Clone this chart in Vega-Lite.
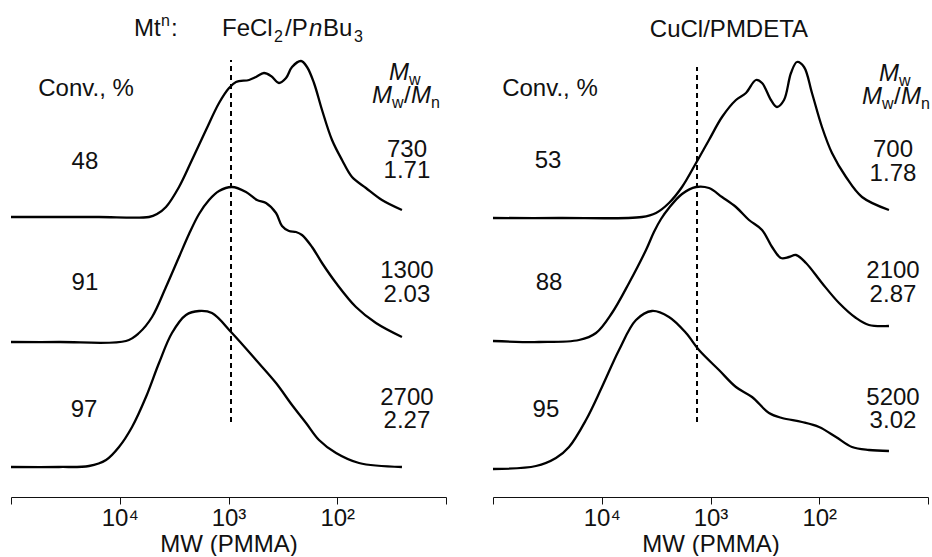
{
  "$schema": "https://vega.github.io/schema/vega-lite/v6.json",
  "padding": {"left": 6, "top": 0, "right": 0, "bottom": 0},
  "config": {"view": {"stroke": null}, "font": "Liberation Sans"},
  "data": {"values": [
    {"panel":"FeCl2/PnBu3","kind":"curve","series":"48","logMW":5.000,"signal":280},
    {"panel":"FeCl2/PnBu3","kind":"curve","series":"48","logMW":4.559,"signal":280},
    {"panel":"FeCl2/PnBu3","kind":"curve","series":"48","logMW":4.191,"signal":280},
    {"panel":"FeCl2/PnBu3","kind":"curve","series":"48","logMW":3.731,"signal":280},
    {"panel":"FeCl2/PnBu3","kind":"curve","series":"48","logMW":3.657,"signal":283},
    {"panel":"FeCl2/PnBu3","kind":"curve","series":"48","logMW":3.575,"signal":290},
    {"panel":"FeCl2/PnBu3","kind":"curve","series":"48","logMW":3.455,"signal":310},
    {"panel":"FeCl2/PnBu3","kind":"curve","series":"48","logMW":3.336,"signal":337},
    {"panel":"FeCl2/PnBu3","kind":"curve","series":"48","logMW":3.207,"signal":367},
    {"panel":"FeCl2/PnBu3","kind":"curve","series":"48","logMW":3.087,"signal":394},
    {"panel":"FeCl2/PnBu3","kind":"curve","series":"48","logMW":2.995,"signal":409},
    {"panel":"FeCl2/PnBu3","kind":"curve","series":"48","logMW":2.931,"signal":415},
    {"panel":"FeCl2/PnBu3","kind":"curve","series":"48","logMW":2.811,"signal":417},
    {"panel":"FeCl2/PnBu3","kind":"curve","series":"48","logMW":2.747,"signal":420},
    {"panel":"FeCl2/PnBu3","kind":"curve","series":"48","logMW":2.674,"signal":424},
    {"panel":"FeCl2/PnBu3","kind":"curve","series":"48","logMW":2.609,"signal":421},
    {"panel":"FeCl2/PnBu3","kind":"curve","series":"48","logMW":2.536,"signal":414},
    {"panel":"FeCl2/PnBu3","kind":"curve","series":"48","logMW":2.471,"signal":419},
    {"panel":"FeCl2/PnBu3","kind":"curve","series":"48","logMW":2.416,"signal":430},
    {"panel":"FeCl2/PnBu3","kind":"curve","series":"48","logMW":2.333,"signal":436},
    {"panel":"FeCl2/PnBu3","kind":"curve","series":"48","logMW":2.278,"signal":430},
    {"panel":"FeCl2/PnBu3","kind":"curve","series":"48","logMW":2.214,"signal":414},
    {"panel":"FeCl2/PnBu3","kind":"curve","series":"48","logMW":2.140,"signal":387},
    {"panel":"FeCl2/PnBu3","kind":"curve","series":"48","logMW":2.048,"signal":357},
    {"panel":"FeCl2/PnBu3","kind":"curve","series":"48","logMW":1.956,"signal":337},
    {"panel":"FeCl2/PnBu3","kind":"curve","series":"48","logMW":1.864,"signal":320},
    {"panel":"FeCl2/PnBu3","kind":"curve","series":"48","logMW":1.736,"signal":309},
    {"panel":"FeCl2/PnBu3","kind":"curve","series":"48","logMW":1.589,"signal":297},
    {"panel":"FeCl2/PnBu3","kind":"curve","series":"48","logMW":1.405,"signal":287},

    {"panel":"FeCl2/PnBu3","kind":"curve","series":"91","logMW":5.000,"signal":155},
    {"panel":"FeCl2/PnBu3","kind":"curve","series":"91","logMW":4.559,"signal":155},
    {"panel":"FeCl2/PnBu3","kind":"curve","series":"91","logMW":3.943,"signal":156},
    {"panel":"FeCl2/PnBu3","kind":"curve","series":"91","logMW":3.823,"signal":164},
    {"panel":"FeCl2/PnBu3","kind":"curve","series":"91","logMW":3.703,"signal":180},
    {"panel":"FeCl2/PnBu3","kind":"curve","series":"91","logMW":3.575,"signal":210},
    {"panel":"FeCl2/PnBu3","kind":"curve","series":"91","logMW":3.455,"signal":240},
    {"panel":"FeCl2/PnBu3","kind":"curve","series":"91","logMW":3.363,"signal":263},
    {"panel":"FeCl2/PnBu3","kind":"curve","series":"91","logMW":3.271,"signal":283},
    {"panel":"FeCl2/PnBu3","kind":"curve","series":"91","logMW":3.179,"signal":297},
    {"panel":"FeCl2/PnBu3","kind":"curve","series":"91","logMW":3.087,"signal":306},
    {"panel":"FeCl2/PnBu3","kind":"curve","series":"91","logMW":2.968,"signal":310},
    {"panel":"FeCl2/PnBu3","kind":"curve","series":"91","logMW":2.839,"signal":305},
    {"panel":"FeCl2/PnBu3","kind":"curve","series":"91","logMW":2.738,"signal":297},
    {"panel":"FeCl2/PnBu3","kind":"curve","series":"91","logMW":2.655,"signal":294},
    {"panel":"FeCl2/PnBu3","kind":"curve","series":"91","logMW":2.563,"signal":284},
    {"panel":"FeCl2/PnBu3","kind":"curve","series":"91","logMW":2.508,"signal":271},
    {"panel":"FeCl2/PnBu3","kind":"curve","series":"91","logMW":2.444,"signal":266},
    {"panel":"FeCl2/PnBu3","kind":"curve","series":"91","logMW":2.379,"signal":265},
    {"panel":"FeCl2/PnBu3","kind":"curve","series":"91","logMW":2.324,"signal":262},
    {"panel":"FeCl2/PnBu3","kind":"curve","series":"91","logMW":2.232,"signal":250},
    {"panel":"FeCl2/PnBu3","kind":"curve","series":"91","logMW":2.140,"signal":234},
    {"panel":"FeCl2/PnBu3","kind":"curve","series":"91","logMW":2.011,"signal":214},
    {"panel":"FeCl2/PnBu3","kind":"curve","series":"91","logMW":1.828,"signal":190},
    {"panel":"FeCl2/PnBu3","kind":"curve","series":"91","logMW":1.644,"signal":174},
    {"panel":"FeCl2/PnBu3","kind":"curve","series":"91","logMW":1.405,"signal":160},

    {"panel":"FeCl2/PnBu3","kind":"curve","series":"97","logMW":5.000,"signal":30},
    {"panel":"FeCl2/PnBu3","kind":"curve","series":"97","logMW":4.559,"signal":30},
    {"panel":"FeCl2/PnBu3","kind":"curve","series":"97","logMW":4.283,"signal":31},
    {"panel":"FeCl2/PnBu3","kind":"curve","series":"97","logMW":4.126,"signal":37},
    {"panel":"FeCl2/PnBu3","kind":"curve","series":"97","logMW":4.007,"signal":50},
    {"panel":"FeCl2/PnBu3","kind":"curve","series":"97","logMW":3.887,"signal":70},
    {"panel":"FeCl2/PnBu3","kind":"curve","series":"97","logMW":3.759,"signal":100},
    {"panel":"FeCl2/PnBu3","kind":"curve","series":"97","logMW":3.639,"signal":134},
    {"panel":"FeCl2/PnBu3","kind":"curve","series":"97","logMW":3.520,"signal":164},
    {"panel":"FeCl2/PnBu3","kind":"curve","series":"97","logMW":3.391,"signal":182},
    {"panel":"FeCl2/PnBu3","kind":"curve","series":"97","logMW":3.271,"signal":186},
    {"panel":"FeCl2/PnBu3","kind":"curve","series":"97","logMW":3.152,"signal":184},
    {"panel":"FeCl2/PnBu3","kind":"curve","series":"97","logMW":2.968,"signal":164},
    {"panel":"FeCl2/PnBu3","kind":"curve","series":"97","logMW":2.747,"signal":137},
    {"panel":"FeCl2/PnBu3","kind":"curve","series":"97","logMW":2.563,"signal":114},
    {"panel":"FeCl2/PnBu3","kind":"curve","series":"97","logMW":2.416,"signal":92},
    {"panel":"FeCl2/PnBu3","kind":"curve","series":"97","logMW":2.287,"signal":74},
    {"panel":"FeCl2/PnBu3","kind":"curve","series":"97","logMW":2.168,"signal":57},
    {"panel":"FeCl2/PnBu3","kind":"curve","series":"97","logMW":2.011,"signal":44},
    {"panel":"FeCl2/PnBu3","kind":"curve","series":"97","logMW":1.800,"signal":34},
    {"panel":"FeCl2/PnBu3","kind":"curve","series":"97","logMW":1.405,"signal":30},

    {"panel":"CuCl/PMDETA","kind":"curve","series":"53","logMW":5.000,"signal":279},
    {"panel":"CuCl/PMDETA","kind":"curve","series":"53","logMW":4.393,"signal":279},
    {"panel":"CuCl/PMDETA","kind":"curve","series":"53","logMW":3.630,"signal":280},
    {"panel":"CuCl/PMDETA","kind":"curve","series":"53","logMW":3.501,"signal":284},
    {"panel":"CuCl/PMDETA","kind":"curve","series":"53","logMW":3.382,"signal":294},
    {"panel":"CuCl/PMDETA","kind":"curve","series":"53","logMW":3.262,"signal":310},
    {"panel":"CuCl/PMDETA","kind":"curve","series":"53","logMW":3.133,"signal":334},
    {"panel":"CuCl/PMDETA","kind":"curve","series":"53","logMW":3.014,"signal":357},
    {"panel":"CuCl/PMDETA","kind":"curve","series":"53","logMW":2.894,"signal":380},
    {"panel":"CuCl/PMDETA","kind":"curve","series":"53","logMW":2.766,"signal":397},
    {"panel":"CuCl/PMDETA","kind":"curve","series":"53","logMW":2.674,"signal":404},
    {"panel":"CuCl/PMDETA","kind":"curve","series":"53","logMW":2.582,"signal":417},
    {"panel":"CuCl/PMDETA","kind":"curve","series":"53","logMW":2.526,"signal":414},
    {"panel":"CuCl/PMDETA","kind":"curve","series":"53","logMW":2.444,"signal":397},
    {"panel":"CuCl/PMDETA","kind":"curve","series":"53","logMW":2.389,"signal":390},
    {"panel":"CuCl/PMDETA","kind":"curve","series":"53","logMW":2.324,"signal":397},
    {"panel":"CuCl/PMDETA","kind":"curve","series":"53","logMW":2.260,"signal":424},
    {"panel":"CuCl/PMDETA","kind":"curve","series":"53","logMW":2.205,"signal":435},
    {"panel":"CuCl/PMDETA","kind":"curve","series":"53","logMW":2.140,"signal":430},
    {"panel":"CuCl/PMDETA","kind":"curve","series":"53","logMW":2.067,"signal":404},
    {"panel":"CuCl/PMDETA","kind":"curve","series":"53","logMW":1.975,"signal":370},
    {"panel":"CuCl/PMDETA","kind":"curve","series":"53","logMW":1.883,"signal":344},
    {"panel":"CuCl/PMDETA","kind":"curve","series":"53","logMW":1.754,"signal":320},
    {"panel":"CuCl/PMDETA","kind":"curve","series":"53","logMW":1.607,"signal":300},
    {"panel":"CuCl/PMDETA","kind":"curve","series":"53","logMW":1.359,"signal":287},

    {"panel":"CuCl/PMDETA","kind":"curve","series":"88","logMW":5.000,"signal":156},
    {"panel":"CuCl/PMDETA","kind":"curve","series":"88","logMW":4.577,"signal":155},
    {"panel":"CuCl/PMDETA","kind":"curve","series":"88","logMW":4.209,"signal":157},
    {"panel":"CuCl/PMDETA","kind":"curve","series":"88","logMW":4.053,"signal":164},
    {"panel":"CuCl/PMDETA","kind":"curve","series":"88","logMW":3.906,"signal":184},
    {"panel":"CuCl/PMDETA","kind":"curve","series":"88","logMW":3.749,"signal":214},
    {"panel":"CuCl/PMDETA","kind":"curve","series":"88","logMW":3.593,"signal":247},
    {"panel":"CuCl/PMDETA","kind":"curve","series":"88","logMW":3.520,"signal":265},
    {"panel":"CuCl/PMDETA","kind":"curve","series":"88","logMW":3.455,"signal":278},
    {"panel":"CuCl/PMDETA","kind":"curve","series":"88","logMW":3.382,"signal":289},
    {"panel":"CuCl/PMDETA","kind":"curve","series":"88","logMW":3.262,"signal":303},
    {"panel":"CuCl/PMDETA","kind":"curve","series":"88","logMW":3.133,"signal":310},
    {"panel":"CuCl/PMDETA","kind":"curve","series":"88","logMW":3.014,"signal":309},
    {"panel":"CuCl/PMDETA","kind":"curve","series":"88","logMW":2.894,"signal":300},
    {"panel":"CuCl/PMDETA","kind":"curve","series":"88","logMW":2.766,"signal":290},
    {"panel":"CuCl/PMDETA","kind":"curve","series":"88","logMW":2.646,"signal":277},
    {"panel":"CuCl/PMDETA","kind":"curve","series":"88","logMW":2.526,"signal":267},
    {"panel":"CuCl/PMDETA","kind":"curve","series":"88","logMW":2.434,"signal":250},
    {"panel":"CuCl/PMDETA","kind":"curve","series":"88","logMW":2.352,"signal":239},
    {"panel":"CuCl/PMDETA","kind":"curve","series":"88","logMW":2.278,"signal":240},
    {"panel":"CuCl/PMDETA","kind":"curve","series":"88","logMW":2.214,"signal":242},
    {"panel":"CuCl/PMDETA","kind":"curve","series":"88","logMW":2.122,"signal":234},
    {"panel":"CuCl/PMDETA","kind":"curve","series":"88","logMW":1.975,"signal":214},
    {"panel":"CuCl/PMDETA","kind":"curve","series":"88","logMW":1.818,"signal":194},
    {"panel":"CuCl/PMDETA","kind":"curve","series":"88","logMW":1.662,"signal":179},
    {"panel":"CuCl/PMDETA","kind":"curve","series":"88","logMW":1.543,"signal":172},
    {"panel":"CuCl/PMDETA","kind":"curve","series":"88","logMW":1.359,"signal":171},

    {"panel":"CuCl/PMDETA","kind":"curve","series":"95","logMW":5.000,"signal":28},
    {"panel":"CuCl/PMDETA","kind":"curve","series":"95","logMW":4.605,"signal":31},
    {"panel":"CuCl/PMDETA","kind":"curve","series":"95","logMW":4.421,"signal":39},
    {"panel":"CuCl/PMDETA","kind":"curve","series":"95","logMW":4.301,"signal":50},
    {"panel":"CuCl/PMDETA","kind":"curve","series":"95","logMW":4.145,"signal":77},
    {"panel":"CuCl/PMDETA","kind":"curve","series":"95","logMW":3.998,"signal":110},
    {"panel":"CuCl/PMDETA","kind":"curve","series":"95","logMW":3.841,"signal":147},
    {"panel":"CuCl/PMDETA","kind":"curve","series":"95","logMW":3.685,"signal":177},
    {"panel":"CuCl/PMDETA","kind":"curve","series":"95","logMW":3.538,"signal":186},
    {"panel":"CuCl/PMDETA","kind":"curve","series":"95","logMW":3.382,"signal":180},
    {"panel":"CuCl/PMDETA","kind":"curve","series":"95","logMW":3.225,"signal":164},
    {"panel":"CuCl/PMDETA","kind":"curve","series":"95","logMW":3.106,"signal":147},
    {"panel":"CuCl/PMDETA","kind":"curve","series":"95","logMW":2.922,"signal":127},
    {"panel":"CuCl/PMDETA","kind":"curve","series":"95","logMW":2.766,"signal":110},
    {"panel":"CuCl/PMDETA","kind":"curve","series":"95","logMW":2.618,"signal":100},
    {"panel":"CuCl/PMDETA","kind":"curve","series":"95","logMW":2.462,"signal":84},
    {"panel":"CuCl/PMDETA","kind":"curve","series":"95","logMW":2.343,"signal":79},
    {"panel":"CuCl/PMDETA","kind":"curve","series":"95","logMW":2.159,"signal":75},
    {"panel":"CuCl/PMDETA","kind":"curve","series":"95","logMW":2.002,"signal":70},
    {"panel":"CuCl/PMDETA","kind":"curve","series":"95","logMW":1.846,"signal":60},
    {"panel":"CuCl/PMDETA","kind":"curve","series":"95","logMW":1.699,"signal":50},
    {"panel":"CuCl/PMDETA","kind":"curve","series":"95","logMW":1.543,"signal":47},
    {"panel":"CuCl/PMDETA","kind":"curve","series":"95","logMW":1.359,"signal":46},

    {"panel":"FeCl2/PnBu3","kind":"rule","logMW":2.977,"signal":75,"signal2":437},
    {"panel":"CuCl/PMDETA","kind":"rule","logMW":3.124,"signal":75,"signal2":430},

    {"panel":"FeCl2/PnBu3","kind":"text","label":"Conv., %","logMW":4.310,"signal":401},
    {"panel":"FeCl2/PnBu3","kind":"text","label":"48","logMW":4.320,"signal":328},
    {"panel":"FeCl2/PnBu3","kind":"text","label":"91","logMW":4.320,"signal":207},
    {"panel":"FeCl2/PnBu3","kind":"text","label":"97","logMW":4.329,"signal":80},
    {"panel":"FeCl2/PnBu3","kind":"text","label":"730","logMW":1.359,"signal":340},
    {"panel":"FeCl2/PnBu3","kind":"text","label":"1.71","logMW":1.359,"signal":319},
    {"panel":"FeCl2/PnBu3","kind":"text","label":"1300","logMW":1.359,"signal":219},
    {"panel":"FeCl2/PnBu3","kind":"text","label":"2.03","logMW":1.359,"signal":195},
    {"panel":"FeCl2/PnBu3","kind":"text","label":"2700","logMW":1.359,"signal":92},
    {"panel":"FeCl2/PnBu3","kind":"text","label":"2.27","logMW":1.359,"signal":69},
    {"panel":"CuCl/PMDETA","kind":"text","label":"CuCl/PMDETA","logMW":2.830,"signal":460},
    {"panel":"CuCl/PMDETA","kind":"text","label":"Conv., %","logMW":4.476,"signal":401},
    {"panel":"CuCl/PMDETA","kind":"text","label":"53","logMW":4.494,"signal":329},
    {"panel":"CuCl/PMDETA","kind":"text","label":"88","logMW":4.485,"signal":207},
    {"panel":"CuCl/PMDETA","kind":"text","label":"95","logMW":4.513,"signal":80},
    {"panel":"CuCl/PMDETA","kind":"text","label":"700","logMW":1.322,"signal":340},
    {"panel":"CuCl/PMDETA","kind":"text","label":"1.78","logMW":1.322,"signal":316},
    {"panel":"CuCl/PMDETA","kind":"text","label":"2100","logMW":1.322,"signal":219},
    {"panel":"CuCl/PMDETA","kind":"text","label":"2.87","logMW":1.322,"signal":195},
    {"panel":"CuCl/PMDETA","kind":"text","label":"5200","logMW":1.322,"signal":92},
    {"panel":"CuCl/PMDETA","kind":"text","label":"3.02","logMW":1.322,"signal":69},

    {"panel":"FeCl2/PnBu3","kind":"piece","label":"Mt","logMW":3.869,"signal":461},
    {"panel":"FeCl2/PnBu3","kind":"piece","label":":","logMW":3.529,"signal":461},
    {"panel":"FeCl2/PnBu3","kind":"piece","label":"FeCl","logMW":3.060,"signal":461},
    {"panel":"FeCl2/PnBu3","kind":"piece","label":"/P","logMW":2.480,"signal":461},
    {"panel":"FeCl2/PnBu3","kind":"piece","label":"Bu","logMW":2.131,"signal":461},
    {"panel":"FeCl2/PnBu3","kind":"piece","label":"/","logMW":1.386,"signal":394},
    {"panel":"CuCl/PMDETA","kind":"piece","label":"/","logMW":1.313,"signal":393},

    {"panel":"FeCl2/PnBu3","kind":"ital","label":"n","logMW":2.260,"signal":461},
    {"panel":"FeCl2/PnBu3","kind":"ital","label":"M","logMW":1.524,"signal":417},
    {"panel":"FeCl2/PnBu3","kind":"ital","label":"M","logMW":1.680,"signal":394},
    {"panel":"FeCl2/PnBu3","kind":"ital","label":"M","logMW":1.322,"signal":394},
    {"panel":"CuCl/PMDETA","kind":"ital","label":"M","logMW":1.451,"signal":416},
    {"panel":"CuCl/PMDETA","kind":"ital","label":"M","logMW":1.607,"signal":393},
    {"panel":"CuCl/PMDETA","kind":"ital","label":"M","logMW":1.248,"signal":393},

    {"panel":"FeCl2/PnBu3","kind":"sub","label":"n","logMW":3.621,"signal":471},
    {"panel":"FeCl2/PnBu3","kind":"sub","label":"2","logMW":2.582,"signal":455},
    {"panel":"FeCl2/PnBu3","kind":"sub","label":"3","logMW":1.846,"signal":455},
    {"panel":"FeCl2/PnBu3","kind":"sub","label":"w","logMW":1.340,"signal":412},
    {"panel":"FeCl2/PnBu3","kind":"sub","label":"w","logMW":1.497,"signal":389},
    {"panel":"FeCl2/PnBu3","kind":"sub","label":"n","logMW":1.138,"signal":389},
    {"panel":"CuCl/PMDETA","kind":"sub","label":"w","logMW":1.267,"signal":411},
    {"panel":"CuCl/PMDETA","kind":"sub","label":"w","logMW":1.423,"signal":388},
    {"panel":"CuCl/PMDETA","kind":"sub","label":"n","logMW":1.064,"signal":388}
  ]},
  "facet": {"column": {"field": "panel", "type": "nominal", "sort": ["FeCl2/PnBu3", "CuCl/PMDETA"], "header": null}},
  "spacing": 47,
  "bounds": "flush",
  "spec": {
    "width": 435,
    "height": 497,
    "encoding": {
      "x": {
        "field": "logMW", "type": "quantitative",
        "scale": {"domain": [1, 5], "reverse": true, "nice": false, "zero": false},
        "axis": {
          "values": [5, 4, 3, 2, 1],
          "labelExpr": "datum.value == 4 ? '10⁴' : datum.value == 3 ? '10³' : datum.value == 2 ? '10²' : ''",
          "title": "MW (PMMA)",
          "grid": false,
          "tickSize": 7,
          "tickColor": "#111",
          "domainColor": "#111",
          "labelColor": "#111",
          "titleColor": "#111",
          "labelFont": "Liberation Sans",
          "titleFont": "Liberation Sans",
          "labelFontSize": 24,
          "titleFontSize": 24,
          "titleFontWeight": "normal",
          "labelPadding": 2,
          "titlePadding": 2,
          "labelFlush": false,
          "labelOverlap": false,
          "labelBound": false
        }
      },
      "y": {"field": "signal", "type": "quantitative", "scale": {"domain": [0, 497], "nice": false, "zero": false}, "axis": null}
    },
    "layer": [
      {
        "transform": [{"filter": "datum.kind == 'curve'"}],
        "mark": {"type": "line", "color": "#000", "strokeWidth": 2.3, "interpolate": "catmull-rom"},
        "encoding": {"detail": {"field": "series", "type": "nominal"}}
      },
      {
        "transform": [{"filter": "datum.kind == 'rule'"}],
        "mark": {"type": "rule", "color": "#000", "strokeWidth": 2, "strokeDash": [5, 4]},
        "encoding": {"y2": {"field": "signal2"}}
      },
      {
        "transform": [{"filter": "datum.kind == 'text'"}],
        "mark": {"type": "text", "fontSize": 24, "align": "center", "baseline": "alphabetic", "color": "#111", "font": "Liberation Sans"},
        "encoding": {"text": {"field": "label", "type": "nominal"}}
      },
      {
        "transform": [{"filter": "datum.kind == 'piece'"}],
        "mark": {"type": "text", "fontSize": 24, "align": "left", "baseline": "alphabetic", "color": "#111", "font": "Liberation Sans"},
        "encoding": {"text": {"field": "label", "type": "nominal"}}
      },
      {
        "transform": [{"filter": "datum.kind == 'ital'"}],
        "mark": {"type": "text", "fontSize": 24, "fontStyle": "italic", "align": "left", "baseline": "alphabetic", "color": "#111", "font": "Liberation Sans"},
        "encoding": {"text": {"field": "label", "type": "nominal"}}
      },
      {
        "transform": [{"filter": "datum.kind == 'sub'"}],
        "mark": {"type": "text", "fontSize": 16, "align": "left", "baseline": "alphabetic", "color": "#111", "font": "Liberation Sans"},
        "encoding": {"text": {"field": "label", "type": "nominal"}}
      }
    ]
  }
}
